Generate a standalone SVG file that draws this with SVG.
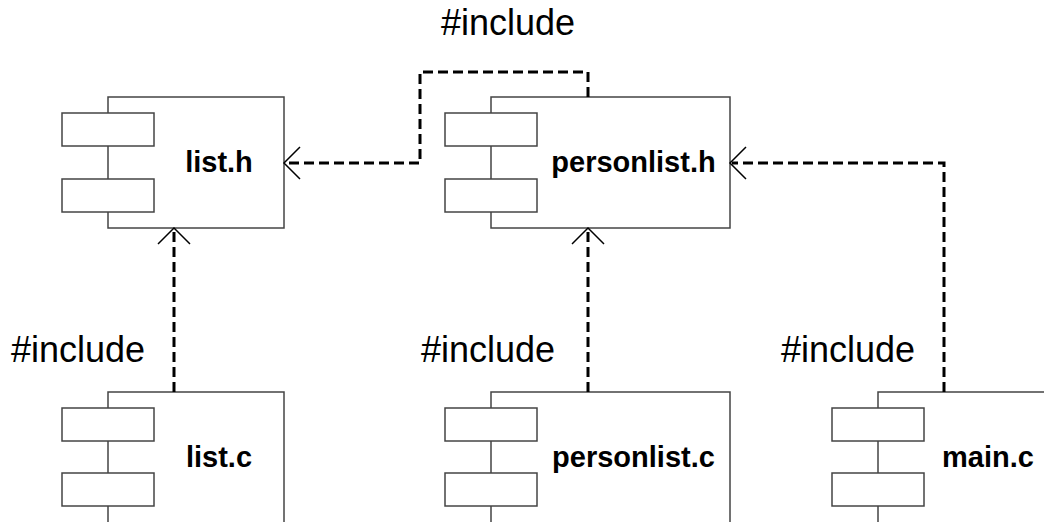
<svg xmlns="http://www.w3.org/2000/svg" width="1044" height="522" viewBox="0 0 1044 522">
<defs>
<style>
.box{fill:#fff;stroke:#444;stroke-width:1.5}
.lbl{font-family:"Liberation Sans",Arial,sans-serif;font-weight:bold;font-size:29px;fill:#000;text-anchor:middle}
.inc{font-family:"Liberation Sans",Arial,sans-serif;font-size:36px;fill:#000;text-anchor:middle}
.dep{fill:none;stroke:#000;stroke-width:3;stroke-dasharray:10 5}
.head{fill:none;stroke:#000;stroke-width:1.5}
</style>
</defs>
<rect width="1044" height="522" fill="#fff"/>
<g id="list_h">
<rect class="box" x="108" y="97" width="176" height="131"/>
<rect class="box" x="62" y="113" width="92" height="33"/>
<rect class="box" x="62" y="179" width="92" height="33"/>
<text class="lbl" x="219" y="172">list.h</text>
</g>
<g id="personlist_h">
<rect class="box" x="491" y="97" width="239" height="131"/>
<rect class="box" x="445" y="113" width="92" height="33"/>
<rect class="box" x="445" y="179" width="92" height="33"/>
<text class="lbl" x="633.5" y="172">personlist.h</text>
</g>
<g id="list_c">
<rect class="box" x="108" y="392" width="176" height="131"/>
<rect class="box" x="62" y="408" width="92" height="33"/>
<rect class="box" x="62" y="473" width="92" height="33"/>
<text class="lbl" x="219" y="467">list.c</text>
</g>
<g id="personlist_c">
<rect class="box" x="491" y="392" width="239" height="131"/>
<rect class="box" x="445" y="408" width="92" height="33"/>
<rect class="box" x="445" y="473" width="92" height="33"/>
<text class="lbl" x="633.5" y="467">personlist.c</text>
</g>
<g id="main_c">
<rect class="box" x="878" y="392" width="176" height="131"/>
<rect class="box" x="832" y="408" width="92" height="33"/>
<rect class="box" x="832" y="473" width="92" height="33"/>
<text class="lbl" x="988" y="467">main.c</text>
</g>
<g id="connectors">
<polyline class="dep" points="588,97 588,72 420,72 420,163 286,163"/>
<polyline class="head" points="300,147 284,163 300,179"/>
<polyline class="dep" points="174,392 174,230"/>
<polyline class="head" points="158,244 174,228 190,244"/>
<polyline class="dep" points="588,392 588,230"/>
<polyline class="head" points="572,244 588,228 604,244"/>
<polyline class="dep" points="944,392 944,163 732,163"/>
<polyline class="head" points="746,147 730,163 746,179"/>
<text class="inc" x="508" y="35">#include</text>
<text class="inc" x="78" y="362">#include</text>
<text class="inc" x="488" y="362">#include</text>
<text class="inc" x="848" y="362">#include</text>
</g>
</svg>
